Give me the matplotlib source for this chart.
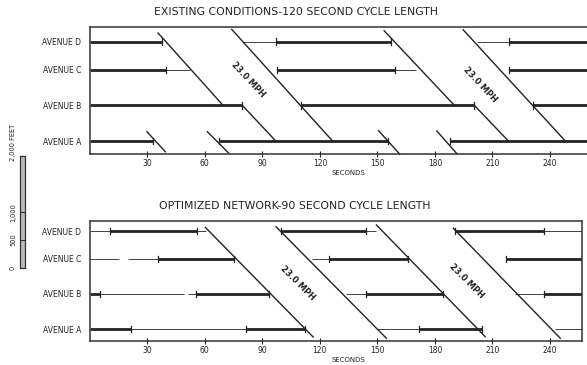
import matplotlib
matplotlib.use("Agg")
import matplotlib.pyplot as plt
from matplotlib.transforms import blended_transform_factory

# -------------------------
# Data (time in seconds, distance in feet)
# -------------------------
avenues = ["AVENUE A", "AVENUE B", "AVENUE C", "AVENUE D"]
avenue_ft = [0, 630, 1260, 1760]
ticks_s = [30, 60, 90, 120, 150, 180, 210, 240]

title_top = "EXISTING CONDITIONS-120 SECOND CYCLE LENGTH"
title_bot = "OPTIMIZED NETWORK-90 SECOND CYCLE LENGTH"
speed_label = "23.0 MPH"

# existing conditions: thick / thin signal bars per avenue (A, B, C, D)
top_thick = [
    [(0, 33), (67.3, 155.5), (187.6, 260)],
    [(0, 79.6), (110, 200.6), (231, 260)],
    [(0, 40), (97.5, 159), (218.5, 260)],
    [(0, 37.7), (97, 157), (218.6, 260)],
]
top_thin = [
    [],
    [],
    [(40, 52.5), (159, 170)],
    [(80, 97), (202, 218.6)],
]
# diagonal band lines: (t0, ft0, t1, ft1)
top_diag = [
    (29.8, 165, 39.4, -190),
    (61.3, 165, 72.4, -213),
    (35.6, 1914, 69.3, 640),
    (79.6, 630, 97.0, 0),
    (74.0, 1979, 126.6, 0),
    (153.5, 1954, 190.2, 630),
    (200.6, 630, 218.3, 0),
    (194.7, 1972, 248.0, 0),
    (150.6, 183, 161.6, -230),
    (181.0, 177, 191.6, -230),
]
top_mph = [(82.5, 1081), (203.5, 992)]

# optimized network
bot_thick = [
    [(0, 21.7), (81.4, 112), (171.8, 204.4)],
    [(0, 5.5), (55.2, 93.6), (144.2, 184.3), (236.8, 258)],
    [(35.7, 75.3), (125, 166), (217.2, 258)],
    [(10.7, 56.1), (99.7, 144.2), (190.5, 236.8)],
]
bot_thin = [
    [(21.7, 81.4), (150, 171.8), (242.6, 258)],
    [(5.5, 49), (51, 55.2), (133.8, 144.2), (222, 236.8)],
    [(0, 15.2), (20, 35.7), (116, 125)],
    [(0, 10.7), (56.1, 60.5), (144.2, 149.5), (236.8, 258)],
]
bot_diag = [
    (60.3, 1823, 116.5, -144),
    (97.1, 1837, 154.7, -167),
    (149.5, 1868, 206.2, -138),
    (189.6, 1809, 245.4, -167),
]
bot_mph = [(108.6, 826), (196.7, 862)]

scale_ft = [0, 500, 1000, 2000]
scale_lab = ["0", "500", "1,000", "2,000 FEET"]

ink = "#222222"
W, H = 587, 365

fig = plt.figure(figsize=(W / 100, H / 100), dpi=100)
fig.patch.set_facecolor("white")


def draw_panel(rect, xlim, ylim, thick, thin, diag, mph, angle, right_spine):
    ax = fig.add_axes(rect)
    for i, y in enumerate(avenue_ft):
        for a, b in thin[i]:
            ax.plot([a, b], [y, y], color=ink, lw=0.6, solid_capstyle="butt")
        for a, b in thick[i]:
            ax.plot([a, b], [y, y], color=ink, lw=2.0, solid_capstyle="butt")
            for e in (a, b):
                if 0 < e < xlim[1] - 1:
                    ax.plot([e, e], [y - 60, y + 60], color=ink, lw=0.9)
    for t0, f0, t1, f1 in diag:
        ax.plot([t0, t1], [f0, f1], color=ink, lw=1.0, clip_on=False)
    for t, f in mph:
        ax.text(t, f, speed_label, rotation=angle, ha="center", va="center",
                fontsize=6, fontweight="bold", color=ink)
    ax.set_xlim(*xlim)
    ax.set_ylim(*ylim)
    ax.set_xticks(ticks_s)
    ax.set_xticklabels([str(t) for t in ticks_s])
    ax.set_yticks(avenue_ft)
    ax.set_yticklabels(avenues)
    ax.tick_params(axis="x", direction="inout", length=4, width=0.8,
                   labelsize=5.5, pad=1.5, colors=ink)
    ax.tick_params(axis="y", length=0, labelsize=5.5, pad=6, colors=ink)
    for s in ["left", "top", "bottom", "right"]:
        ax.spines[s].set_color("#333333")
        ax.spines[s].set_linewidth(1.1)
    ax.spines["right"].set_visible(right_spine)
    trans = blended_transform_factory(ax.transData, ax.transAxes)
    ax.annotate("SECONDS", xy=(135, 0), xycoords=trans, xytext=(0, -14),
                textcoords="offset points", ha="center", va="center",
                fontsize=5, color=ink)
    return ax


left = 89.8 / W
draw_panel([left, 1 - 154 / H, 1 - left, (154 - 27.3) / H],
           (0, 259.3), (-230, 2015), top_thick, top_thin, top_diag,
           top_mph, -47, False)
draw_panel([left, 1 - 340.7 / H, (582 - 89.8) / W, (340.7 - 220.7) / H],
           (0, 256.7), (-210, 1945), bot_thick, bot_thin, bot_diag,
           bot_mph, -45, True)

fig.text(296 / W, 1 - 12 / H, title_top, ha="center", va="center",
         fontsize=7.8, color=ink)
fig.text(295 / W, 1 - 206 / H, title_bot, ha="center", va="center",
         fontsize=7.8, color=ink)

# distance scale bar
sax = fig.add_axes([0, 1 - 272 / H, 40 / W, (272 - 150) / H])
sax.set_xlim(0, 40)
sax.set_ylim(-70, 2110)
sax.axis("off")
sax.bar(22.5, scale_ft[-1], width=4.5, bottom=0, color="#bbbbbb",
        edgecolor="#333333", linewidth=0.9)
for f, lab in zip(scale_ft, scale_lab):
    sax.plot([20, 25], [f, f], color="#333333", lw=0.8)
    if lab.endswith("FEET"):
        sax.text(13, f - 80, lab, rotation=90, rotation_mode="anchor",
                 ha="left", va="center", fontsize=4.8, color=ink,
                 clip_on=False)
    else:
        sax.text(13, f, lab, rotation=90, ha="center", va="center",
                 fontsize=4.8, color=ink)

fig.savefig("out.png", dpi=100, facecolor="white")
